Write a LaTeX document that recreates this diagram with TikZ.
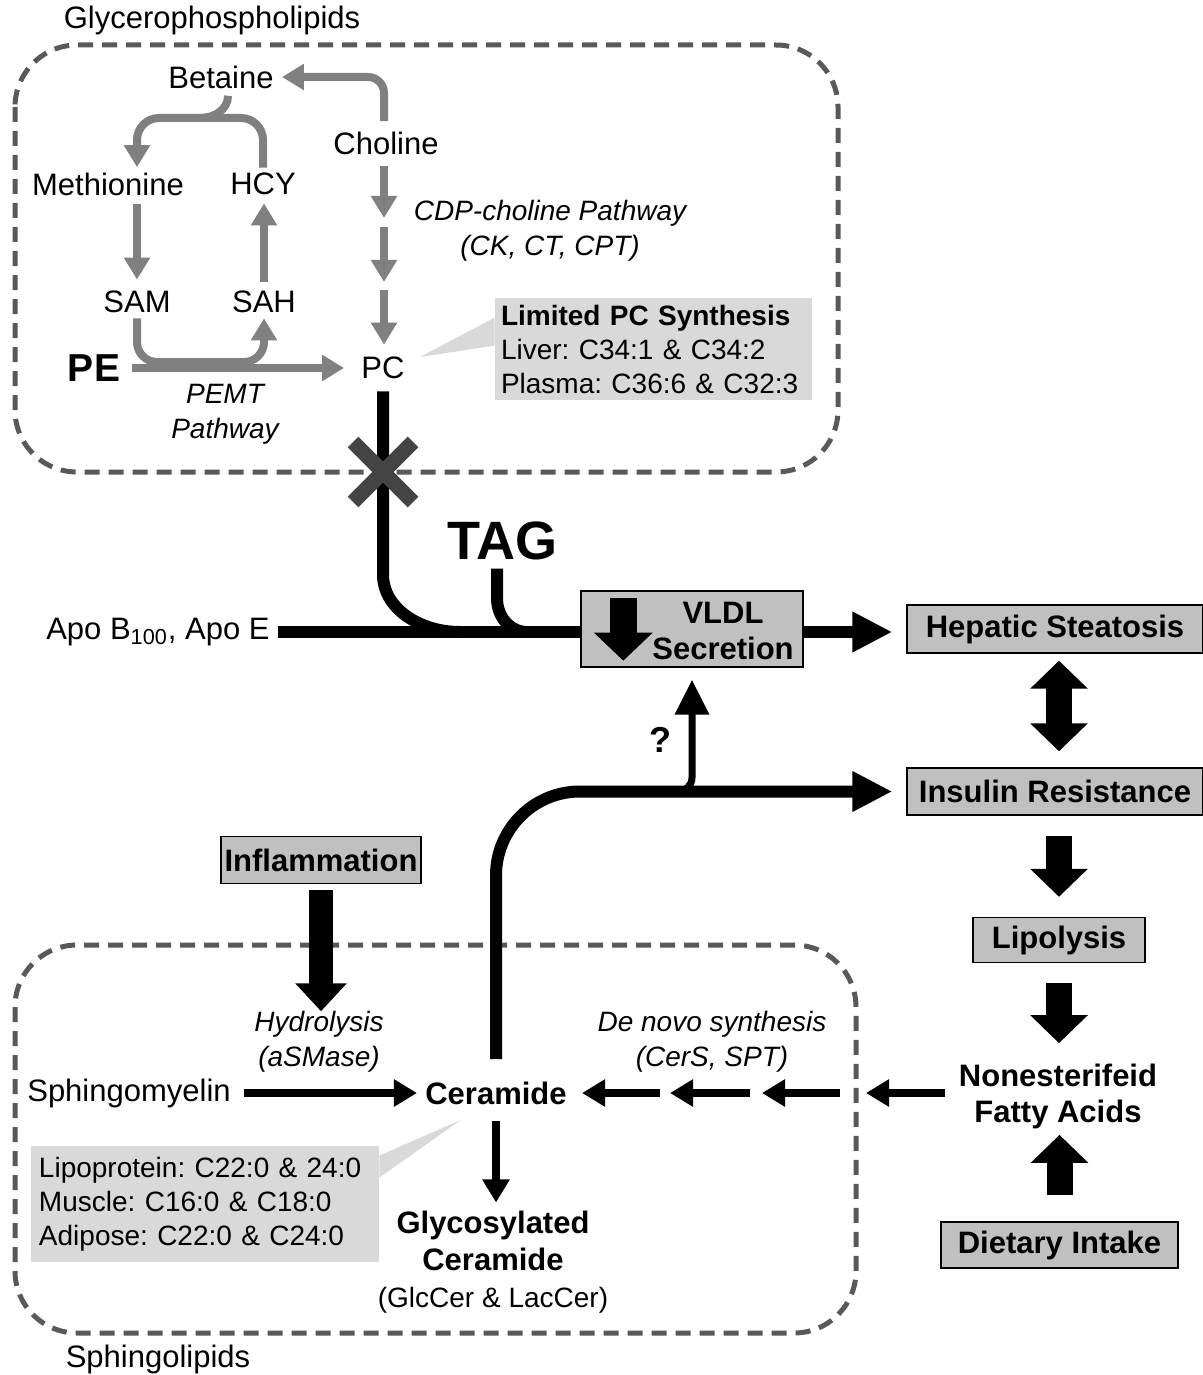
\documentclass[tikz,border=0pt]{standalone}
\usepackage{fontspec}
\setmainfont{Liberation Sans}
\usetikzlibrary{arrows.meta}
\definecolor{stategray}{HTML}{C0C0C0}
\definecolor{callgray}{HTML}{D9D9D9}
\definecolor{pathgray}{HTML}{808080}
\definecolor{groupgray}{HTML}{595959}
\definecolor{crossgray}{HTML}{444444}
\frenchspacing

\begin{document}
\begin{tikzpicture}[x=0.5pt,y=-0.5pt,
  every node/.style={inner sep=0pt, align=center, font=\fontsize{15.5}{17.3}\selectfont},
  bnode/.style={font=\fontsize{15.5}{18}\selectfont\bfseries},
  inode/.style={font=\fontsize{14}{17.3}\selectfont\itshape},
  statebox/.style={draw, line width=0.7pt, fill=stategray, font=\fontsize{15.5}{17.3}\selectfont\bfseries},
  notebox/.style={fill=callgray, align=left, font=\fontsize{14}{17}\selectfont},
  groupbox/.style={draw=groupgray, line width=2.5pt, dash pattern=on 7.5pt off 4.5pt, rounded corners=31pt},
  grayarrow/.style={draw=pathgray, line width=4pt, -{Triangle[width=12.5pt,length=11pt]}},
  grayline/.style={draw=pathgray, line width=4pt},
  mainline/.style={line width=6pt},
  mainarrow/.style={line width=6pt, -{Triangle[width=19pt,length=20pt]}},
  midarrow/.style={line width=4pt, -{Triangle[width=13pt,length=11.5pt]}},
  bigarrow/.style={line width=13pt, -{Triangle[width=28pt,length=14pt]}}]
\useasboundingbox (0,0) rectangle (1203,1375);

\draw[groupbox] (15,45) rectangle (838,472);
\draw[groupbox] (15,945) rectangle (856,1333);
\node (glyc) at (212,20) {Glycerophospholipids};
\node (sphl) at (158,1359) {Sphingolipids};

\node (bet) at (221,77) {Betaine};
\node (cho) at (386,143) {Choline};
\node (met) at (108,184) {Methionine};
\node (hcy) at (263,184) {HCY};
\node (sam) at (137,302) {SAM};
\node (sah) at (264,302) {SAH};
\node[font=\fontsize{19.5}{20}\selectfont\bfseries] (pe) at (94,368) {PE};
\node (pc) at (383,368) {PC};
\node[inode] (cdp) at (550,231) {CDP-choline Pathway\\(CK, CT, CPT)};
\node[inode] (pemt) at (225,414) {PEMT\\Pathway};
\node[notebox, text width=152.5pt, inner xsep=3pt, minimum height=51pt] (lim) at (653.5,349)
  {\textbf{Limited PC Synthesis}\\Liver: C34:1 \& C34:2\\Plasma: C36:6 \& C32:3};

\coordinate (bar) at (200,118);
\coordinate (loop) at (200,362);
\coordinate (cdpa) at (384,218);
\coordinate (cdpb) at (384,227);
\coordinate (cdpc) at (384,282);
\coordinate (cdpd) at (384,290);

\draw[grayarrow, rounded corners=8pt, shorten <=5pt, shorten >=4pt] (cdpa |- cho.north) |- (bet.east);
\draw[grayarrow, rounded corners=11pt, shorten <=2.5pt, shorten >=2.5pt] (hcy.north) |- (bar) -| (met.north -| sam.north);
\draw[grayline] ([shift={(3.5pt,-3.5pt)}]bet.south) .. controls +(0,14) and +(14,0) .. (bar);
\draw[grayarrow, shorten <=4pt, shorten >=5.5pt] (met.south -| sam.north) -- (sam.north);
\draw[grayarrow, shorten <=4.5pt, shorten >=4pt] (sah.north) -- (sah.north |- hcy.south);
\draw[grayarrow, rounded corners=10pt, shorten <=2.5pt, shorten >=2.5pt] (sam.south) |- (loop) -| (sah.south);
\draw[grayarrow, shorten <=6pt, shorten >=8.5pt] (pe.east) -- (pc.west);
\draw[grayarrow, shorten <=5.5pt] (cho.south -| cdpa) -- (cdpa);
\draw[grayarrow] (cdpb) -- (cdpc);
\draw[grayarrow, shorten >=6pt] (cdpd) -- (pc.north -| cdpd);
\fill[callgray] ([shift={(7.5pt,5.5pt)}]pc.east) -- ([yshift=-10pt]lim.north west) -- ([yshift=-24pt]lim.north west) -- cycle;

\node[anchor=east] (apo) at (270,632) {Apo B\textsubscript{100}, Apo E};
\node[font=\fontsize{27}{28}\selectfont\bfseries] (tag) at (502,541) {TAG};
\node[statebox, minimum width=111pt, minimum height=38pt] (vldl) at (692,629) {};
\node[bnode] (vldltext) at (723,631) {VLDL\\Secretion};
\node[statebox, minimum width=148pt, minimum height=24pt] (hep) at (1055,629) {Hepatic Steatosis};
\node[statebox, minimum width=148pt, minimum height=23.5pt] (ins) at (1055,791.5) {Insulin Resistance};
\node[statebox, minimum width=86pt, minimum height=22.5pt] (lip) at (1059,940) {Lipolysis};
\node[bnode] (nefa) at (1058,1096) {Nonesterifeid\\Fatty Acids};
\node[statebox, minimum width=118.5pt, minimum height=23pt] (diet) at (1059.5,1245) {Dietary Intake};
\node[statebox, minimum width=100pt, minimum height=23.5pt] (infl) at (321,860) {Inflammation};
\node[font=\fontsize{18}{18}\selectfont\bfseries] (qm) at (660,740) {?};

\coordinate (pcbend) at (383,575);
\coordinate (pcjoin) at (460,632);
\coordinate (tagbend) at (497,598);
\coordinate (tagjoin) at (527,632);
\coordinate (qfork) at (650,791.5);
\coordinate (blk) at (383,472);

\draw[mainline, shorten <=6pt] (pc.south) -- (pcbend) .. controls +(0,32) and +(-42,0) .. (pcjoin);
\draw[mainline, shorten <=4pt] (tag.south -| tagbend) -- (tagbend) .. controls +(0,20) and +(-16,0) .. (tagjoin);
\draw[crossgray, line width=7.5pt] ([shift={(-15pt,15pt)}]blk) -- ([shift={(15pt,-15pt)}]blk)
  ([shift={(-15pt,-15pt)}]blk) -- ([shift={(15pt,15pt)}]blk);
\draw[mainline, shorten <=4pt] (apo.east) -- (apo.east -| vldl.west);
\draw[mainarrow, shorten >=7pt] (vldl.east |- apo.east) -- (hep.west |- apo.east);
\draw[line width=13.5pt, -{Triangle[width=28.5pt,length=14pt]}] ([shift={(21.5pt,-4pt)}]vldl.north west) -- ([shift={(21.5pt,3.5pt)}]vldl.south west);

\draw[{Triangle[width=28pt,length=14pt]}-{Triangle[width=28pt,length=14pt]}, line width=13pt, shorten <=3.5pt, shorten >=8pt] (hep.south -| lip.north) -- (ins.north -| lip.north);
\draw[bigarrow, shorten <=10pt, shorten >=10pt] (ins.south -| lip.north) -- (lip.north);
\draw[bigarrow, shorten <=10pt, shorten >=10pt] (lip.south) -- (nefa.north -| lip.south);
\draw[bigarrow, shorten <=13pt, shorten >=3pt] (diet.north) -- (nefa.south -| diet.north);

\node (sph) at (129,1093) {Sphingomyelin};
\node[bnode] (cer) at (496,1093) {Ceramide};
\node[inode] (hyd) at (319,1042) {Hydrolysis\\(aSMase)};
\node[inode] (denovo) at (712,1042) {De novo synthesis\\(CerS, SPT)};
\node[font=\fontsize{15.5}{18.5}\selectfont] (glc) at (493,1262) {\textbf{Glycosylated}\\\textbf{Ceramide}\\{\fontsize{14}{18.5}\selectfont(GlcCer \& LacCer)}};
\node[notebox, text width=166pt, inner xsep=4pt, minimum height=58pt] (lipo) at (205,1204)
  {Lipoprotein: C22:0 \& 24:0\\Muscle: C16:0 \& C18:0\\Adipose: C22:0 \& C24:0};
\fill[callgray] ([shift={(-17.5pt,-7.5pt)}]cer.south) -- ([yshift=-5pt]lipo.north east) -- ([yshift=-16pt]lipo.north east) -- cycle;

\coordinate (dna) at (866,1093);
\coordinate (dnb) at (840,1093);
\coordinate (dnc) at (762,1093);
\coordinate (dnd) at (750,1093);
\coordinate (dne) at (670,1093);
\coordinate (dnf) at (660,1093);

\draw[line width=12pt, -{Triangle[width=25pt,length=14pt]}, shorten <=3pt] (infl.south) -- (hyd.north -| infl.south);
\draw[midarrow, shorten <=6.5pt, shorten >=4pt] (sph.east) -- (cer.west);
\draw[midarrow, shorten <=8pt, shorten >=4pt] (cer.south) -- (cer.south |- glc.north);
\draw[midarrow, shorten <=7pt] (nefa.west |- dna) -- (dna);
\draw[midarrow] (dnb) -- (dnc);
\draw[midarrow] (dnd) -- (dne);
\draw[midarrow, shorten >=7.5pt] (dnf) -- (cer.east);
\draw[mainarrow, rounded corners=42pt, shorten <=11pt, shorten >=7pt] (cer.north) |- (ins.west);
\draw[line width=3.5pt, -{Triangle[width=16.5pt,length=17.5pt]}, rounded corners=7pt, shorten >=6pt] (qfork) -| (vldl.south);
\end{tikzpicture}
\end{document}
